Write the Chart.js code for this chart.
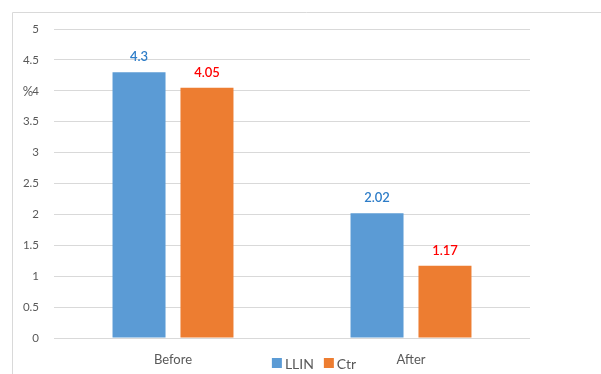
<!DOCTYPE html>
<html>
<head>
<meta charset="utf-8">
<script src="https://cdn.jsdelivr.net/npm/chart.js@4/dist/chart.umd.min.js"></script>
<style>
  html, body { margin: 0; padding: 0; background: #ffffff; }
  #wrap { width: 601px; height: 374px; position: relative; }
</style>
</head>
<body>
<div id="wrap"><canvas id="c" width="601" height="374"></canvas></div>
<script>
// Periods compared
const categories = ['Before', 'After'];
// Percentages per group
const llinValues = [4.3, 2.02];
const ctrValues = [4.05, 1.17];
const seriesNames = ['LLIN', 'Ctr'];
// Y axis range and step
const yMin = 0, yMax = 5, yStep = 0.5;
const unitLabel = '%';

const FONT = 'Lato, "Open Sans", "Noto Sans", sans-serif';
const GREY = '#595959';
const labelColors = ['#2E7DC8', '#FF0000'];

// Outer frame (left and top edges) plus the unit label beside the y axis
const framePlugin = {
  id: 'frame',
  beforeDraw(chart) {
    const ctx = chart.ctx;
    ctx.save();
    ctx.strokeStyle = '#D9D9D9';
    ctx.lineWidth = 1;
    ctx.beginPath();
    ctx.moveTo(12.5, chart.height);
    ctx.lineTo(12.5, 12.5);
    ctx.lineTo(chart.width, 12.5);
    ctx.stroke();
    ctx.restore();
  },
  afterDraw(chart) {
    const ctx = chart.ctx;
    const y = chart.scales.y;
    ctx.save();
    ctx.fillStyle = GREY;
    ctx.font = '13px ' + FONT;
    ctx.textAlign = 'center';
    ctx.textBaseline = 'middle';
    ctx.fillText(unitLabel, 28, y.getPixelForValue(3.98));
    ctx.restore();
  }
};

// Value labels above each bar
const valueLabelPlugin = {
  id: 'valueLabels',
  afterDatasetsDraw(chart) {
    const ctx = chart.ctx;
    ctx.save();
    ctx.font = '600 13px ' + FONT;
    ctx.textAlign = 'center';
    ctx.textBaseline = 'middle';
    chart.data.datasets.forEach((ds, di) => {
      const meta = chart.getDatasetMeta(di);
      ctx.fillStyle = labelColors[di];
      meta.data.forEach((bar, i) => {
        ctx.fillText(String(ds.data[i]), bar.x, bar.y - 15);
      });
    });
    ctx.restore();
  }
};

// Legend drawn centred under the plot, level with the category labels
const legendPlugin = {
  id: 'bottomLegend',
  afterDraw(chart) {
    const ctx = chart.ctx;
    ctx.save();
    ctx.font = '14px ' + FONT;
    ctx.textBaseline = 'middle';
    const box = 10, gapBox = 3, gapItem = 10;
    const items = chart.data.datasets.map(ds => ({
      text: ds.label, color: ds.backgroundColor,
      w: box + gapBox + ctx.measureText(ds.label).width
    }));
    const total = items.reduce((s, it) => s + it.w, 0) + gapItem * (items.length - 1);
    let x = 314 - total / 2;
    const cy = 363;
    items.forEach(it => {
      ctx.fillStyle = it.color;
      ctx.fillRect(x, cy - box / 2, box, box);
      ctx.fillStyle = GREY;
      ctx.textAlign = 'left';
      ctx.fillText(it.text, x + box + gapBox, cy + 1);
      x += it.w + gapItem;
    });
    ctx.restore();
  }
};

new Chart(document.getElementById('c'), {
  type: 'bar',
  data: {
    labels: categories,
    datasets: [
      { label: seriesNames[0], data: llinValues, backgroundColor: '#5B9BD5' },
      { label: seriesNames[1], data: ctrValues, backgroundColor: '#ED7D31' }
    ]
  },
  options: {
    responsive: false,
    animation: false,
    devicePixelRatio: 1,
    layout: { padding: { left: 0, right: 71, top: 29, bottom: 0 } },
    datasets: { bar: { categoryPercentage: 0.571, barPercentage: 0.78 } },
    plugins: {
      legend: { display: false },
      tooltip: { enabled: false }
    },
    scales: {
      x: {
        grid: { display: false, drawTicks: false },
        border: { display: false },
        ticks: { color: GREY, font: { family: FONT, size: 13 }, padding: 14 },
        afterFit(scale) { scale.height = 36; }
      },
      y: {
        min: yMin, max: yMax,
        grid: { color: '#D9D9D9', lineWidth: 1, drawTicks: false },
        border: { display: false },
        ticks: {
          stepSize: yStep, color: GREY, padding: 15,
          font: { family: FONT, size: 11.5 },
          callback: (v) => String(Math.round(v * 10) / 10)
        },
        afterFit(scale) { scale.width = 54; }
      }
    }
  },
  plugins: [framePlugin, valueLabelPlugin, legendPlugin]
});
</script>
</body>
</html>
